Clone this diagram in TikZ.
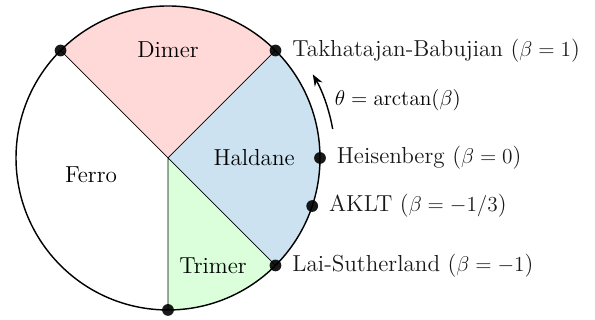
\documentclass[tikz,border=0pt]{standalone}
\usepackage{amsmath,amssymb}
\usepackage{tikz}
\usetikzlibrary{arrows.meta,calc}
\usepackage{xcolor}
\definecolor{dimerpink}{RGB}{255,216,216}
\definecolor{haldaneblue}{RGB}{204,226,240}
\definecolor{trimergreen}{RGB}{218,255,218}

\begin{document}
\begin{tikzpicture}[scale=1,font=\fontsize{13pt}{15.6pt}\selectfont]
\useasboundingbox (-3.316,-3.197) rectangle (8.428,3.118);
\coordinate (O) at (0,0);
\coordinate (TB) at (45:3);
\coordinate (DM) at (135:3);
\coordinate (LS) at (-45:3);
\coordinate (BT) at (-90:3);
\coordinate (HB) at (0:3);
\coordinate (AK) at ({-atan(1/3)}:3);
% phases
\fill[dimerpink] (O) -- (TB) arc (45:135:3) -- cycle;
\fill[haldaneblue] (O) -- (LS) arc (-45:45:3) -- cycle;
\fill[trimergreen] (O) -- (BT) arc (-90:-45:3) -- cycle;
\draw (O) -- (DM) (O) -- (TB) (O) -- (LS) (O) -- (BT);
\draw[thick] (O) circle (3);
\node at (0,2.13) {Dimer};
\node at (1.70,0) {Haldane};
\node at (-1.52,-0.34) {Ferro};
\node at (0.89,-2.13) {Trimer};
% special points
\fill[opacity=0.9] (TB) circle (3.3pt) node[right=6pt] {Takhatajan-Babujian ($\beta=1$)};
\fill[opacity=0.9] (DM) circle (3.3pt);
\fill[opacity=0.9] (HB) circle (3.3pt) node[right=6pt] {Heisenberg ($\beta=0$)};
\fill[opacity=0.9] (AK) circle (3.3pt) node[right=6pt] {AKLT ($\beta=-1/3$)};
\fill[opacity=0.9] (LS) circle (3.3pt) node[right=6pt] {Lai-Sutherland ($\beta=-1$)};
\fill[opacity=0.9] (BT) circle (3.3pt);
% angle
\draw[thick,-{Stealth}] (10:3.3) arc (10:30:3.3);
\node[anchor=west] at (3.17,1.14) {$\theta=\arctan(\beta)$};
\end{tikzpicture}
\end{document}
